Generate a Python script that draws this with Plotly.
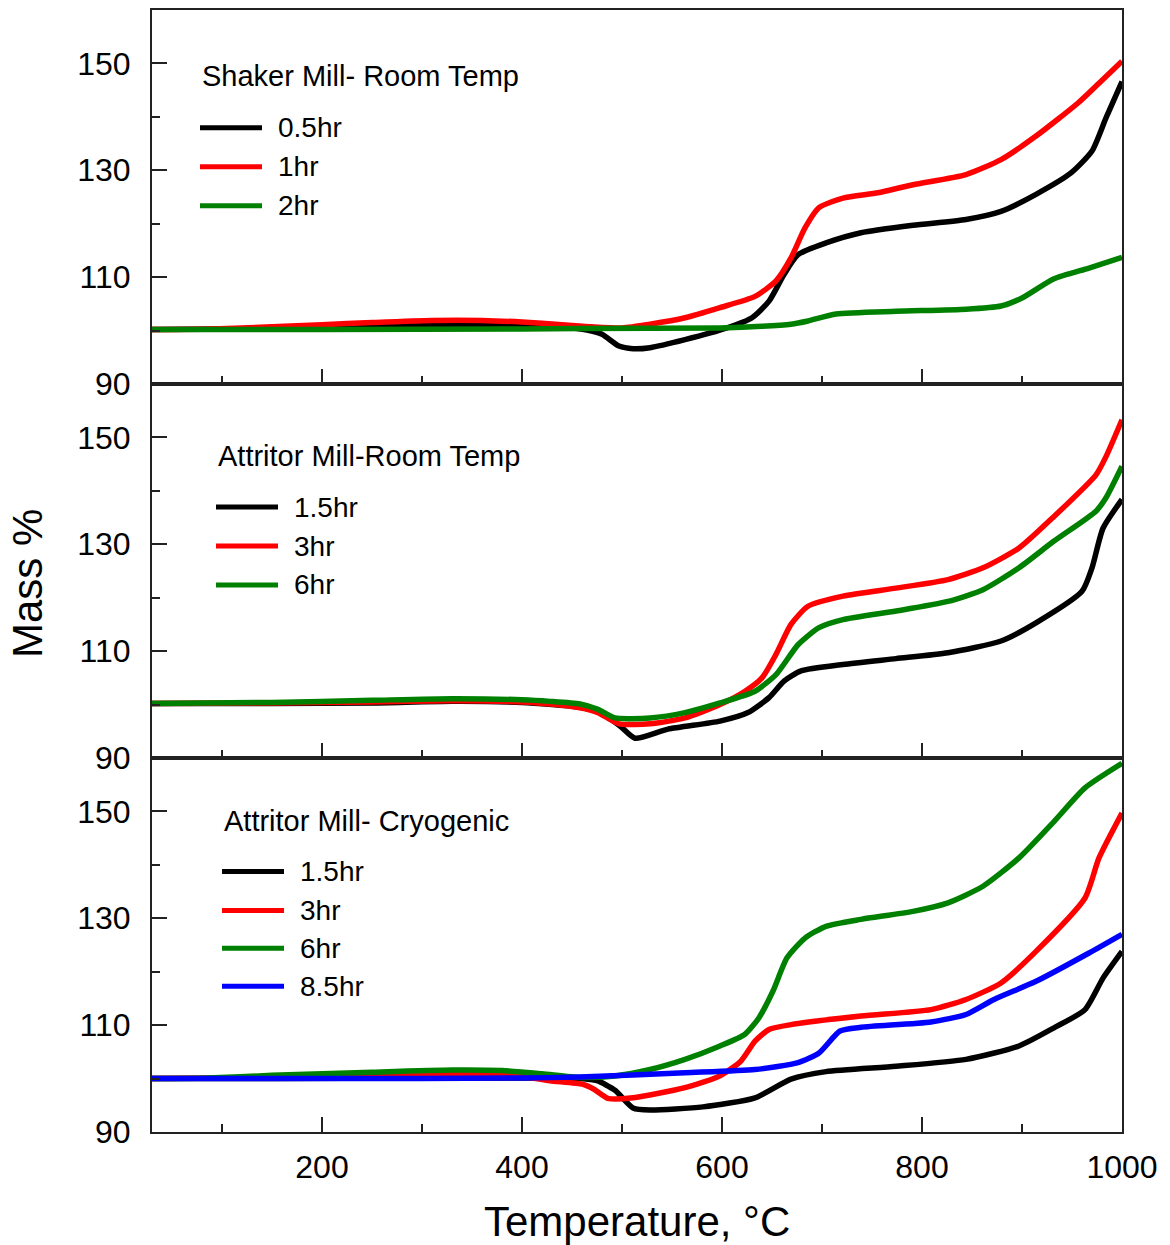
import plotly.graph_objects as go
from plotly.subplots import make_subplots

# ---- Shaker mill, room temperature ----
shaker_05_T = [30, 100, 200, 300, 380, 440, 465, 480, 497, 511, 528, 563, 605, 630, 647, 662, 676, 704, 739, 791, 844, 879, 914, 949, 970, 984, 1000]
shaker_05_m = [100.2, 100.3, 100.6, 100.9, 100.9, 100.6, 100.1, 99.3, 97.1, 96.6, 96.8, 98.3, 100.5, 102.4, 105.5, 110.5, 114.2, 116.4, 118.3, 119.7, 120.8, 122.3, 125.5, 129.5, 133.6, 139.8, 146.6]

shaker_1_T = [30, 90, 150, 200, 250, 310, 360, 400, 440, 470, 500, 528, 563, 598, 633, 654, 669, 683, 697, 721, 756, 791, 844, 879, 914, 956, 977, 1000]
shaker_1_m = [100.2, 100.3, 100.7, 101.1, 101.5, 101.9, 101.9, 101.6, 101.1, 100.7, 100.5, 101.2, 102.4, 104.3, 106.4, 109.3, 113.6, 119.2, 123.0, 124.8, 125.8, 127.3, 129.2, 132.0, 136.4, 142.6, 146.3, 150.4]

shaker_2_T = [30, 200, 400, 458, 598, 640, 669, 686, 714, 774, 844, 879, 900, 932, 967, 1000]
shaker_2_m = [100.2, 100.2, 100.3, 100.4, 100.5, 100.8, 101.2, 101.8, 103.1, 103.6, 104.0, 104.6, 106.1, 109.7, 111.7, 113.7]

# ---- Attritor mill, room temperature ----
attr_15_T = [30, 150, 250, 330, 400, 430, 458, 478, 498, 513, 546, 598, 626, 647, 662, 679, 721, 774, 826, 879, 914, 960, 970, 981, 1000]
attr_15_m = [100.2, 100.2, 100.3, 100.6, 100.4, 100.0, 99.5, 98.5, 96.0, 93.7, 95.4, 96.9, 98.5, 101.3, 104.4, 106.3, 107.5, 108.6, 109.7, 111.9, 115.3, 121.2, 125.6, 133.0, 138.4]

attr_3_T = [30, 150, 250, 330, 400, 428, 458, 476, 497, 528, 563, 598, 623, 640, 654, 669, 686, 721, 774, 826, 861, 897, 932, 974, 984, 1000]
attr_3_m = [100.2, 100.3, 100.5, 100.7, 100.5, 100.1, 99.4, 98.5, 96.4, 96.4, 97.5, 100.0, 102.5, 105.0, 109.4, 115.0, 118.4, 120.3, 121.8, 123.4, 125.6, 129.3, 135.2, 143.0, 146.4, 153.3]

attr_6_T = [30, 150, 250, 330, 400, 428, 458, 476, 493, 528, 563, 598, 633, 654, 676, 697, 721, 774, 826, 861, 897, 932, 974, 984, 1000]
attr_6_m = [100.2, 100.4, 100.8, 101.1, 100.9, 100.6, 100.1, 99.1, 97.5, 97.5, 98.5, 100.3, 102.5, 105.6, 111.2, 114.4, 115.9, 117.5, 119.3, 121.5, 125.6, 130.6, 136.2, 138.7, 144.6]

# ---- Attritor mill, cryogenic ----
cryo_15_T = [30, 150, 300, 400, 458, 475, 493, 511, 528, 581, 633, 669, 704, 774, 844, 897, 932, 963, 981, 1000]
cryo_15_m = [100.0, 100.0, 100.1, 100.1, 100.0, 99.6, 97.8, 94.5, 94.1, 94.7, 96.4, 99.9, 101.3, 102.3, 103.6, 106.1, 109.5, 112.9, 118.8, 123.8]

cryo_3_T = [30, 100, 200, 300, 380, 400, 428, 461, 472, 486, 511, 563, 598, 619, 633, 647, 669, 739, 809, 844, 879, 914, 963, 977, 1000]
cryo_3_m = [100.0, 100.1, 100.5, 100.8, 100.8, 100.4, 99.6, 98.9, 98.0, 96.3, 96.4, 98.3, 100.5, 103.3, 107.0, 109.2, 110.1, 111.7, 112.9, 114.8, 117.9, 123.8, 133.8, 141.3, 149.7]

cryo_6_T = [30, 85, 150, 250, 330, 380, 420, 458, 493, 528, 563, 598, 623, 637, 651, 665, 683, 704, 739, 791, 826, 861, 897, 932, 963, 1000]
cryo_6_m = [100.0, 100.1, 100.6, 101.2, 101.6, 101.5, 100.9, 100.2, 100.5, 101.7, 103.6, 106.1, 108.3, 111.4, 116.4, 122.6, 126.3, 128.5, 129.8, 131.3, 132.9, 136.0, 141.3, 148.1, 154.4, 159.0]

cryo_85_T = [30, 200, 400, 458, 563, 633, 676, 697, 718, 739, 809, 844, 872, 914, 967, 1000]
cryo_85_m = [100.0, 100.0, 100.1, 100.3, 101.1, 101.7, 103.0, 104.8, 108.9, 109.6, 110.6, 112.0, 114.8, 118.2, 123.5, 127.0]

panel_titles = ["Shaker Mill- Room Temp", "Attritor Mill-Room Temp", "Attritor Mill- Cryogenic"]
panel_series = [
    [("0.5hr", shaker_05_T, shaker_05_m, "#000000"),
     ("1hr", shaker_1_T, shaker_1_m, "#ff0000"),
     ("2hr", shaker_2_T, shaker_2_m, "#008000")],
    [("1.5hr", attr_15_T, attr_15_m, "#000000"),
     ("3hr", attr_3_T, attr_3_m, "#ff0000"),
     ("6hr", attr_6_T, attr_6_m, "#008000")],
    [("1.5hr", cryo_15_T, cryo_15_m, "#000000"),
     ("3hr", cryo_3_T, cryo_3_m, "#ff0000"),
     ("6hr", cryo_6_T, cryo_6_m, "#008000"),
     ("8.5hr", cryo_85_T, cryo_85_m, "#0000ff")],
]

FONT = "Liberation Sans, Arial, sans-serif"
W, H = 1170, 1245
ML, MR, MT, MB = 152, 48, 8, 113

fig = make_subplots(rows=3, cols=1, shared_xaxes=True, vertical_spacing=0)

for row, series in enumerate(panel_series, start=1):
    for name, t, m, color in series:
        fig.add_trace(go.Scatter(x=t, y=m, mode="lines", name=name,
                                 line=dict(color=color, width=5.5, shape="spline", smoothing=0.6),
                                 showlegend=False, hoverinfo="skip"),
                      row=row, col=1)

axis_common = dict(showline=True, mirror=True, linecolor="#222", linewidth=2,
                   ticks="inside", ticklen=15, tickwidth=1.5, tickcolor="#222",
                   showgrid=False, zeroline=False,
                   tickfont=dict(family=FONT, size=32, color="black"))

fig.update_xaxes(range=[30, 1000], tick0=0, dtick=200,
                 minor=dict(ticks="inside", ticklen=8, tick0=0, dtick=100, tickcolor="#222", tickwidth=1.5),
                 ticklabelstandoff=6, **axis_common)
fig.update_yaxes(range=[90, 160], tick0=90, dtick=20,
                 minor=dict(ticks="inside", ticklen=8, tick0=90, dtick=10, tickcolor="#222", tickwidth=1.5),
                 ticklabelstandoff=13, **axis_common)


def to_paper(px, py):
    return (px - ML) / (W - ML - MR), (H - MB - py) / (H - MT - MB)


annotations = []
shapes = []

# Axis titles
tx, ty = to_paper(637, 1222)
annotations.append(dict(text="Temperature, °C", x=tx, y=ty, xref="paper", yref="paper",
                        xanchor="center", yanchor="middle", showarrow=False,
                        font=dict(family=FONT, size=42, color="black")))
tx, ty = to_paper(28, 583)
annotations.append(dict(text="Mass %", x=tx, y=ty, xref="paper", yref="paper", textangle=-90,
                        xanchor="center", yanchor="middle", showarrow=False,
                        font=dict(family=FONT, size=42, color="black")))

# Per-panel key: title position, line-sample span, text x, row y positions (pixels)
key_layout = [
    dict(title_xy=(200, 74), x0=200, x1=262, tx=276, ys=[126, 165, 204]),
    dict(title_xy=(216, 455), x0=216, x1=278, tx=292, ys=[506, 545, 584]),
    dict(title_xy=(222, 820), x0=222, x1=284, tx=298, ys=[871, 910, 948, 986]),
]

for title, series, kl in zip(panel_titles, panel_series, key_layout):
    tx, ty = to_paper(*kl["title_xy"])
    annotations.append(dict(text=title, x=tx, y=ty, xref="paper", yref="paper",
                            xanchor="left", yanchor="middle", showarrow=False,
                            font=dict(family=FONT, size=29, color="black")))
    for (name, _, _, color), py in zip(series, kl["ys"]):
        x0, y0 = to_paper(kl["x0"], py)
        x1, _ = to_paper(kl["x1"], py)
        shapes.append(dict(type="line", xref="paper", yref="paper", x0=x0, x1=x1, y0=y0, y1=y0,
                           line=dict(color=color, width=5)))
        lx, _ = to_paper(kl["tx"], py)
        annotations.append(dict(text=name, x=lx, y=y0, xref="paper", yref="paper",
                                xanchor="left", yanchor="middle", showarrow=False,
                                font=dict(family=FONT, size=28, color="black")))

fig.update_layout(width=W, height=H, margin=dict(l=ML, r=MR, t=MT, b=MB),
                  paper_bgcolor="white", plot_bgcolor="white",
                  shapes=shapes, annotations=annotations, showlegend=False)

fig.write_html("out.html")
